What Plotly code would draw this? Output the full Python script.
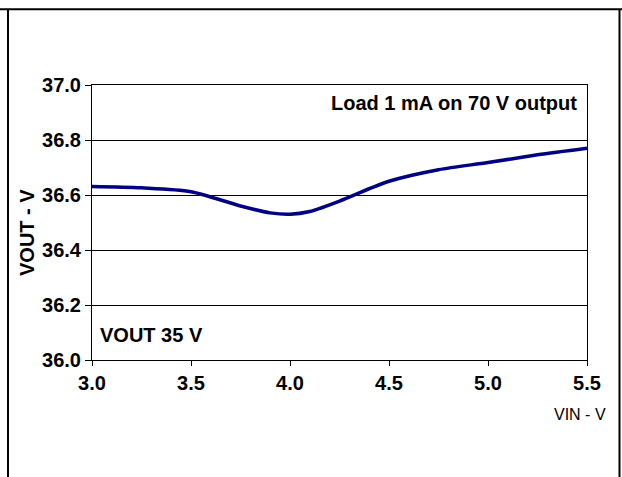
import plotly.graph_objects as go

# Data
vin = [3.0, 3.25, 3.5, 3.75, 3.9, 4.0, 4.1, 4.25, 4.5, 4.75, 5.0, 5.25, 5.5]
vout = [36.631, 36.626, 36.612, 36.560, 36.535, 36.530, 36.540, 36.578, 36.650, 36.692, 36.718, 36.746, 36.770]

x_ticks = [3.0, 3.5, 4.0, 4.5, 5.0, 5.5]
y_ticks = [36.0, 36.2, 36.4, 36.6, 36.8, 37.0]

FONT = "Liberation Sans, Arial, sans-serif"

fig = go.Figure()
fig.add_trace(go.Scatter(
    x=vin, y=vout, mode="lines",
    line=dict(color="#000080", width=3.5, shape="spline", smoothing=0.8),
    hoverinfo="skip", showlegend=False,
))

W, H = 622, 477
L, R, T, B = 92, 35, 85, 117
pw, ph = W - L - R, H - T - B

def px(x):
    return (x - L) / pw

def py(y):
    return (H - B - y) / ph

fig.update_layout(
    width=W, height=H,
    margin=dict(l=L, r=R, t=T, b=B),
    paper_bgcolor="white", plot_bgcolor="white",
    font=dict(family=FONT, color="black"),
    xaxis=dict(
        range=[3.0, 5.5], tickvals=x_ticks, ticktext=[f"{v:.1f}" for v in x_ticks],
        showgrid=False, zeroline=False,
        showline=True, linecolor="black", linewidth=1, mirror=True,
        ticks="outside", ticklen=5, tickcolor="black",
        tickfont=dict(family=FONT, size=20, color="black", weight="bold"),
    ),
    yaxis=dict(
        range=[36.0, 37.0], tickvals=y_ticks, ticktext=[f"{v:.1f}" for v in y_ticks],
        showgrid=True, gridcolor="black", gridwidth=1, zeroline=False,
        showline=True, linecolor="black", linewidth=1, mirror=True,
        ticks="outside", ticklen=6, tickcolor="black",
        tickfont=dict(family=FONT, size=20, color="black", weight="bold"),
    ),
    annotations=[
        dict(text="Load 1 mA on 70 V output", xref="paper", yref="paper",
             x=px(579), y=py(103), xanchor="right", yanchor="middle", showarrow=False,
             font=dict(family=FONT, size=20, color="black", weight="bold")),
        dict(text="VOUT 35 V", xref="paper", yref="paper",
             x=px(98), y=py(335), xanchor="left", yanchor="middle", showarrow=False,
             font=dict(family=FONT, size=20, color="black", weight="bold")),
        dict(text="VIN - V", xref="paper", yref="paper",
             x=px(608), y=py(414), xanchor="right", yanchor="middle", showarrow=False,
             font=dict(family=FONT, size=16, color="black")),
        dict(text="VOUT - V", xref="paper", yref="paper",
             x=px(27), y=py(233), xanchor="center", yanchor="middle", showarrow=False,
             textangle=-90,
             font=dict(family=FONT, size=20, color="black", weight="bold")),
    ],
    shapes=[
        dict(type="line", xref="paper", yref="paper", x0=px(-5), x1=px(630), y0=py(9.3), y1=py(9.3),
             line=dict(color="black", width=2)),
        dict(type="line", xref="paper", yref="paper", x0=px(8), x1=px(8), y0=py(9.3), y1=py(490),
             line=dict(color="black", width=2)),
        dict(type="line", xref="paper", yref="paper", x0=px(619.5), x1=px(619.5), y0=py(9.3), y1=py(490),
             line=dict(color="black", width=2)),
    ],
)

fig.write_html("out.html", config={"displayModeBar": False},
               post_script="document.body.style.margin='0';document.body.style.overflow='hidden';document.documentElement.style.overflow='hidden';")
